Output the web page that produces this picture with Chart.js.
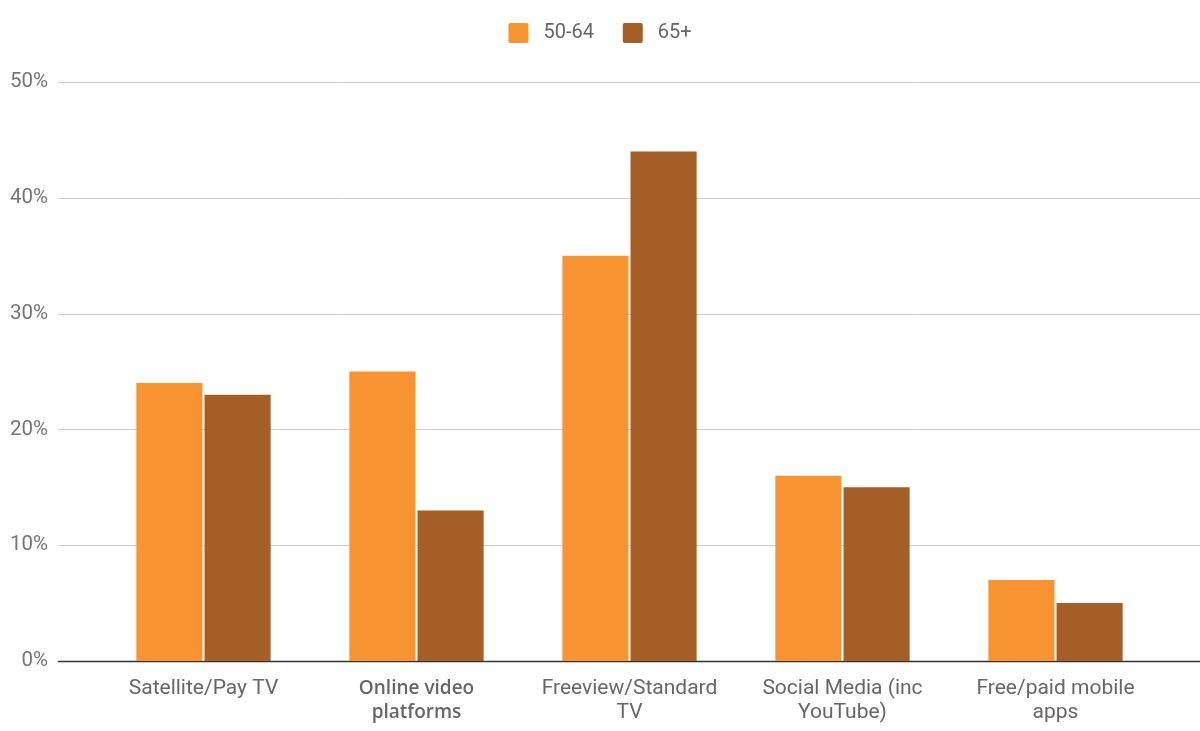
<!DOCTYPE html>
<html>
<head>
<meta charset="utf-8">
<script src="https://cdn.jsdelivr.net/npm/chart.js@4.4.1/dist/chart.umd.min.js"></script>
<style>
html,body{margin:0;padding:0;background:#fff;}
#wrap{width:1200px;height:731px;position:relative;}
</style>
</head>
<body>
<div id="wrap"><canvas id="c" width="1200" height="731"></canvas></div>
<script>
const categories = [
  ["Satellite/Pay TV"],
  ["Online video", "platforms"],
  ["Freeview/Standard", "TV"],
  ["Social Media (inc", "YouTube)"],
  ["Free/paid mobile", "apps"]
];
const series5064 = [24, 25, 35, 16, 7];
const series65 = [23, 13, 44, 15, 5];
const seriesNames = ["50-64", "65+"];
const yTicks = [0, 10, 20, 30, 40, 50];

const fullGrid = {
  id: 'fullGrid',
  beforeDatasetsDraw(chart) {
    const y = chart.scales.y;
    const ctx = chart.ctx;
    ctx.save();
    yTicks.forEach(v => {
      const py = Math.round(y.getPixelForValue(v)) + 0.5;
      ctx.beginPath();
      ctx.strokeStyle = v === 0 ? '#333333' : '#cccccc';
      ctx.lineWidth = v === 0 ? 1.5 : 1;
      ctx.moveTo(58, py);
      ctx.lineTo(1200, py);
      ctx.stroke();
    });
    ctx.restore();
  }
};

const legendSpace = {
  id: 'legendSpace',
  beforeInit(chart) {
    const orig = chart.legend.fit;
    chart.legend.fit = function () {
      orig.call(this);
      this.height = 73;
    };
  }
};

new Chart(document.getElementById('c'), {
  type: 'bar',
  data: {
    labels: categories,
    datasets: [
      { label: seriesNames[0], data: series5064, backgroundColor: '#F79431', borderWidth: 0 },
      { label: seriesNames[1], data: series65, backgroundColor: '#A45E26', borderWidth: 0 }
    ]
  },
  options: {
    responsive: false,
    animation: false,
    devicePixelRatio: 1,
    layout: { padding: { left: 0, right: 0, top: 9, bottom: 0 } },
    datasets: { bar: { categoryPercentage: 0.64, barPercentage: 0.97 } },
    plugins: {
      legend: {
        position: 'top',
        labels: {
          boxWidth: 20, boxHeight: 20, padding: 14,
          color: '#666666',
          font: { family: 'Roboto', size: 20 },
          useBorderRadius: true, borderRadius: 2,
          generateLabels(chart) {
            const items = Chart.defaults.plugins.legend.labels.generateLabels(chart);
            items.forEach((it, i) => {
              it.text = ' ' + it.text + (i < items.length - 1 ? '   ' : '');
            });
            return items;
          }
        }
      },
      tooltip: { enabled: false }
    },
    scales: {
      x: {
        afterFit: (s) => { s.height = 70; },
        grid: { display: false, drawTicks: false },
        border: { display: false },
        ticks: {
          padding: 16,
          maxRotation: 0,
          autoSkip: false,
          color: '#666666',
          font: (c) => c.index === 1
            ? { family: 'Open Sans', size: 19, weight: '600', lineHeight: '24px' }
            : { family: 'Roboto', size: 21, lineHeight: '24px' }
        }
      },
      y: {
        min: 0, max: 50,
        afterFit: (s) => { s.width = 97; },
        grid: { display: false, drawTicks: false },
        border: { display: false },
        ticks: {
          stepSize: 10,
          padding: 49,
          color: '#757575',
          font: { family: 'Roboto', size: 20.5 },
          callback: (v) => v + '%'
        }
      },
      yRight: {
        position: 'right',
        min: 0, max: 50,
        afterFit: (s) => { s.width = 38; },
        grid: { display: false, drawTicks: false },
        border: { display: false },
        ticks: { display: false }
      }
    }
  },
  plugins: [fullGrid, legendSpace]
});
</script>
</body>
</html>
